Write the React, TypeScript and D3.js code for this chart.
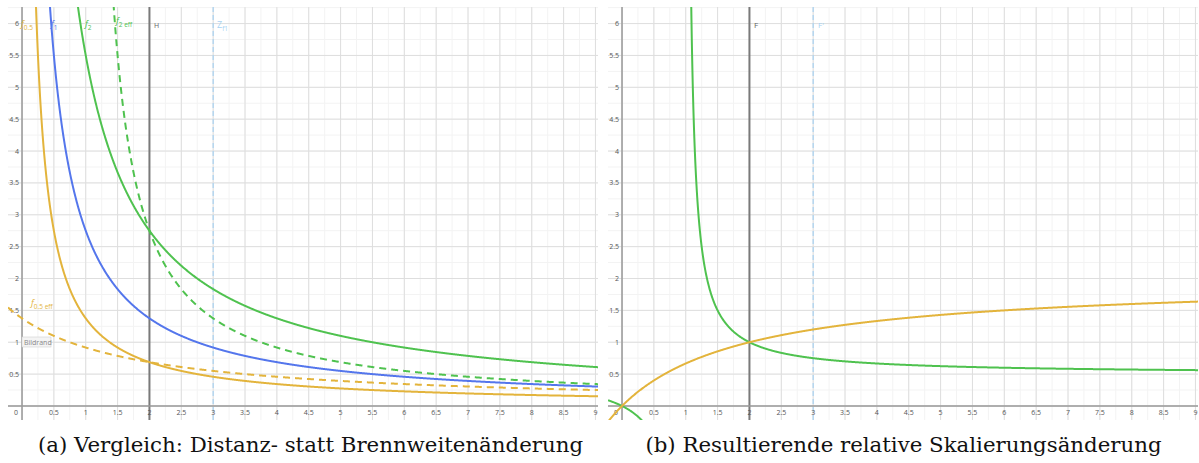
import React from "react";
import * as d3 from "d3";

// tick values shown on both panels
const xTicks = [0, 0.5, 1, 1.5, 2, 2.5, 3, 3.5, 4, 4.5, 5, 5.5, 6, 6.5, 7, 7.5, 8, 8.5, 9];
const yTicks = [0.5, 1, 1.5, 2, 2.5, 3, 3.5, 4, 4.5, 5, 5.5, 6];

// left panel: relative size curves  k / (x - shift)
const leftNames = ["f0.5", "f1", "f2", "f2 eff", "f0.5 eff"];
const leftK = [1.375, 2.75, 5.5, 2.75, 2.75];
const leftShift = [0, 0, 0, 1, -2];
const leftColors = ["#e3b43c", "#5476ec", "#4fc24f", "#4fc24f", "#e3b43c"];
const leftDashed = [false, false, false, true, true];

// right panel: ratio curves  a * x / (x - shift)
const rightNames = ["f2 ratio", "f0.5 ratio"];
const rightA = [0.5, 2];
const rightShift = [1, -2];
const rightColors = ["#4fc24f", "#e3b43c"];

// vertical marker lines
const markerX = [2, 3];
const captions = [
  "(a) Vergleich: Distanz- statt Brennweitenänderung",
  "(b) Resultierende relative Skalierungsänderung",
];

const W = 1199;
const H = 463;
const panels = [
  { x0: 8, x1: 598 },
  { x0: 608, x1: 1198 },
];
const top = 7;
const bottom = 420;
const xDomain: [number, number] = [-0.22, 9.04];
const yDomain: [number, number] = [-0.22, 6.26];

const font = "'Open Sans', 'DejaVu Sans', sans-serif";

function Grid({ xs, ys }: { xs: d3.ScaleLinear<number, number>; ys: d3.ScaleLinear<number, number> }) {
  const minorX = d3.range(-0.25, 9.1, 0.25).filter((v) => v > xDomain[0] && v < xDomain[1]);
  const minorY = d3.range(-0.25, 6.3, 0.25).filter((v) => v > yDomain[0] && v < yDomain[1]);
  const majorX = d3.range(0, 9.1, 0.5);
  const majorY = d3.range(0, 6.3, 0.5);
  return (
    <g>
      {minorX.map((v) => (
        <line key={"mx" + v} x1={xs(v)} x2={xs(v)} y1={top} y2={bottom} stroke="#f3f3f3" strokeWidth={1} />
      ))}
      {minorY.map((v) => (
        <line key={"my" + v} x1={xs.range()[0]} x2={xs.range()[1]} y1={ys(v)} y2={ys(v)} stroke="#f3f3f3" strokeWidth={1} />
      ))}
      {majorX.map((v) => (
        <line key={"Mx" + v} x1={xs(v)} x2={xs(v)} y1={top} y2={bottom} stroke="#dedede" strokeWidth={1} />
      ))}
      {majorY.map((v) => (
        <line key={"My" + v} x1={xs.range()[0]} x2={xs.range()[1]} y1={ys(v)} y2={ys(v)} stroke="#dedede" strokeWidth={1} />
      ))}
    </g>
  );
}

function Axes({ xs, ys }: { xs: d3.ScaleLinear<number, number>; ys: d3.ScaleLinear<number, number> }) {
  const ox = xs(0);
  const oy = ys(0);
  return (
    <g fontFamily={font} fontSize={7} fill="#555">
      <line x1={ox} x2={ox} y1={top} y2={bottom} stroke="#9a9a9a" strokeWidth={1.5} />
      <line x1={xs.range()[0]} x2={xs.range()[1]} y1={oy} y2={oy} stroke="#9a9a9a" strokeWidth={1.5} />
      {xTicks.map((v) => (
        <text key={"xt" + v} x={v === 0 ? ox - 6 : xs(v)} y={oy + 9} textAnchor="middle">
          {String(v)}
        </text>
      ))}
      {yTicks.map((v) => (
        <text key={"yt" + v} x={ox - 3} y={ys(v) + 2.5} textAnchor="end">
          {String(v)}
        </text>
      ))}
    </g>
  );
}

function Label({ x, y, main, sub, color, italic = true }: { x: number; y: number; main: string; sub?: string; color: string; italic?: boolean }) {
  return (
    <text x={x} y={y} fill={color} fontFamily={font} fontSize={9}>
      <tspan fontStyle={italic ? "italic" : "normal"}>{main}</tspan>
      {sub ? (
        <tspan fontSize={6.5} dy={2.5}>
          {sub}
        </tspan>
      ) : null}
    </text>
  );
}

export default function App() {
  const scales = panels.map((p) => ({
    xs: d3.scaleLinear().domain(xDomain).range([p.x0, p.x1]),
    ys: d3.scaleLinear().domain(yDomain).range([bottom, top]),
  }));

  const samples = d3.range(-0.22, 9.05, 0.005);

  const leftPaths = leftNames.map((_, i) => {
    const { xs, ys } = scales[0];
    const line = d3
      .line<number>()
      .defined((x) => x - leftShift[i] > 0.05)
      .x((x) => xs(x))
      .y((x) => ys(Math.min(40, leftK[i] / (x - leftShift[i]))));
    return line(samples) || "";
  });

  const rightPaths = rightNames.map((_, i) => {
    const { xs, ys } = scales[1];
    const s = rightShift[i];
    const line = d3
      .line<number>()
      .defined((x) => Math.abs(x - s) > 0.02)
      .x((x) => xs(x))
      .y((x) => ys(Math.max(-40, Math.min(40, (rightA[i] * x) / (x - s)))));
    return line(samples) || "";
  });

  const [L, R] = scales;

  return (
    <svg width={W} height={H} style={{ display: "block", position: "absolute", left: 0, top: 0 }}>
      <defs>
        {panels.map((p, i) => (
          <clipPath id={"clip" + i} key={i}>
            <rect x={p.x0} y={top} width={p.x1 - p.x0} height={bottom - top} />
          </clipPath>
        ))}
      </defs>
      <rect x={0} y={0} width={W} height={H} fill="#fff" />

      {/* left panel */}
      <g clipPath="url(#clip0)">
        <Grid xs={L.xs} ys={L.ys} />
        <line x1={L.xs(markerX[0])} x2={L.xs(markerX[0])} y1={top} y2={bottom} stroke="#7a7a7a" strokeWidth={2} />
        <line x1={L.xs(markerX[1])} x2={L.xs(markerX[1])} y1={top} y2={bottom} stroke="#a9d3f2" strokeWidth={1.2} strokeDasharray="5,3" />
        <Axes xs={L.xs} ys={L.ys} />
        {leftPaths.map((d, i) => (
          <path
            key={leftNames[i]}
            d={d}
            fill="none"
            stroke={leftColors[i]}
            strokeWidth={2}
            strokeDasharray={leftDashed[i] ? "7,5" : undefined}
          />
        ))}
        <Label x={21} y={27} main="f" sub="0.5" color={leftColors[0]} />
        <Label x={51} y={27} main="f" sub="1" color={leftColors[1]} />
        <Label x={85} y={27} main="f" sub="2" color={leftColors[2]} />
        <Label x={116} y={24} main="f" sub="2 eff" color={leftColors[3]} />
        <text x={154} y={28} fill="#666" fontFamily={font} fontSize={7}>H</text>
        <Label x={217} y={28} main="Z" sub="f1" color="#a9d3f2" italic={false} />
        <Label x={31} y={306} main="f" sub="0.5 eff" color={leftColors[4]} />
        <rect x={22} y={337} width={29} height={10} fill="#f4f4f4" stroke="#d0d0d0" strokeWidth={0.6} />
        <text x={24} y={345} fill="#888" fontFamily={font} fontSize={7}>Bildrand</text>
      </g>

      {/* right panel */}
      <g clipPath="url(#clip1)">
        <Grid xs={R.xs} ys={R.ys} />
        <line x1={R.xs(markerX[0])} x2={R.xs(markerX[0])} y1={top} y2={bottom} stroke="#7a7a7a" strokeWidth={2} />
        <line x1={R.xs(markerX[1])} x2={R.xs(markerX[1])} y1={top} y2={bottom} stroke="#a9d3f2" strokeWidth={1.2} strokeDasharray="5,3" />
        <Axes xs={R.xs} ys={R.ys} />
        {rightPaths.map((d, i) => (
          <path key={rightNames[i]} d={d} fill="none" stroke={rightColors[i]} strokeWidth={2} />
        ))}
        <text x={754} y={28} fill="#666" fontFamily={font} fontSize={8}>F</text>
        <text x={818} y={28} fill="#a9d3f2" fontFamily={font} fontSize={8}>F'</text>
      </g>

      {/* captions */}
      {captions.map((c, i) => (
        <text
          key={c}
          x={i === 0 ? 310.5 : 903.5}
          y={452}
          textAnchor="middle"
          fontFamily="'DejaVu Serif', 'Liberation Serif', serif"
          fontSize={21.3}
          fill="#111"
        >
          {c}
        </text>
      ))}
    </svg>
  );
}
